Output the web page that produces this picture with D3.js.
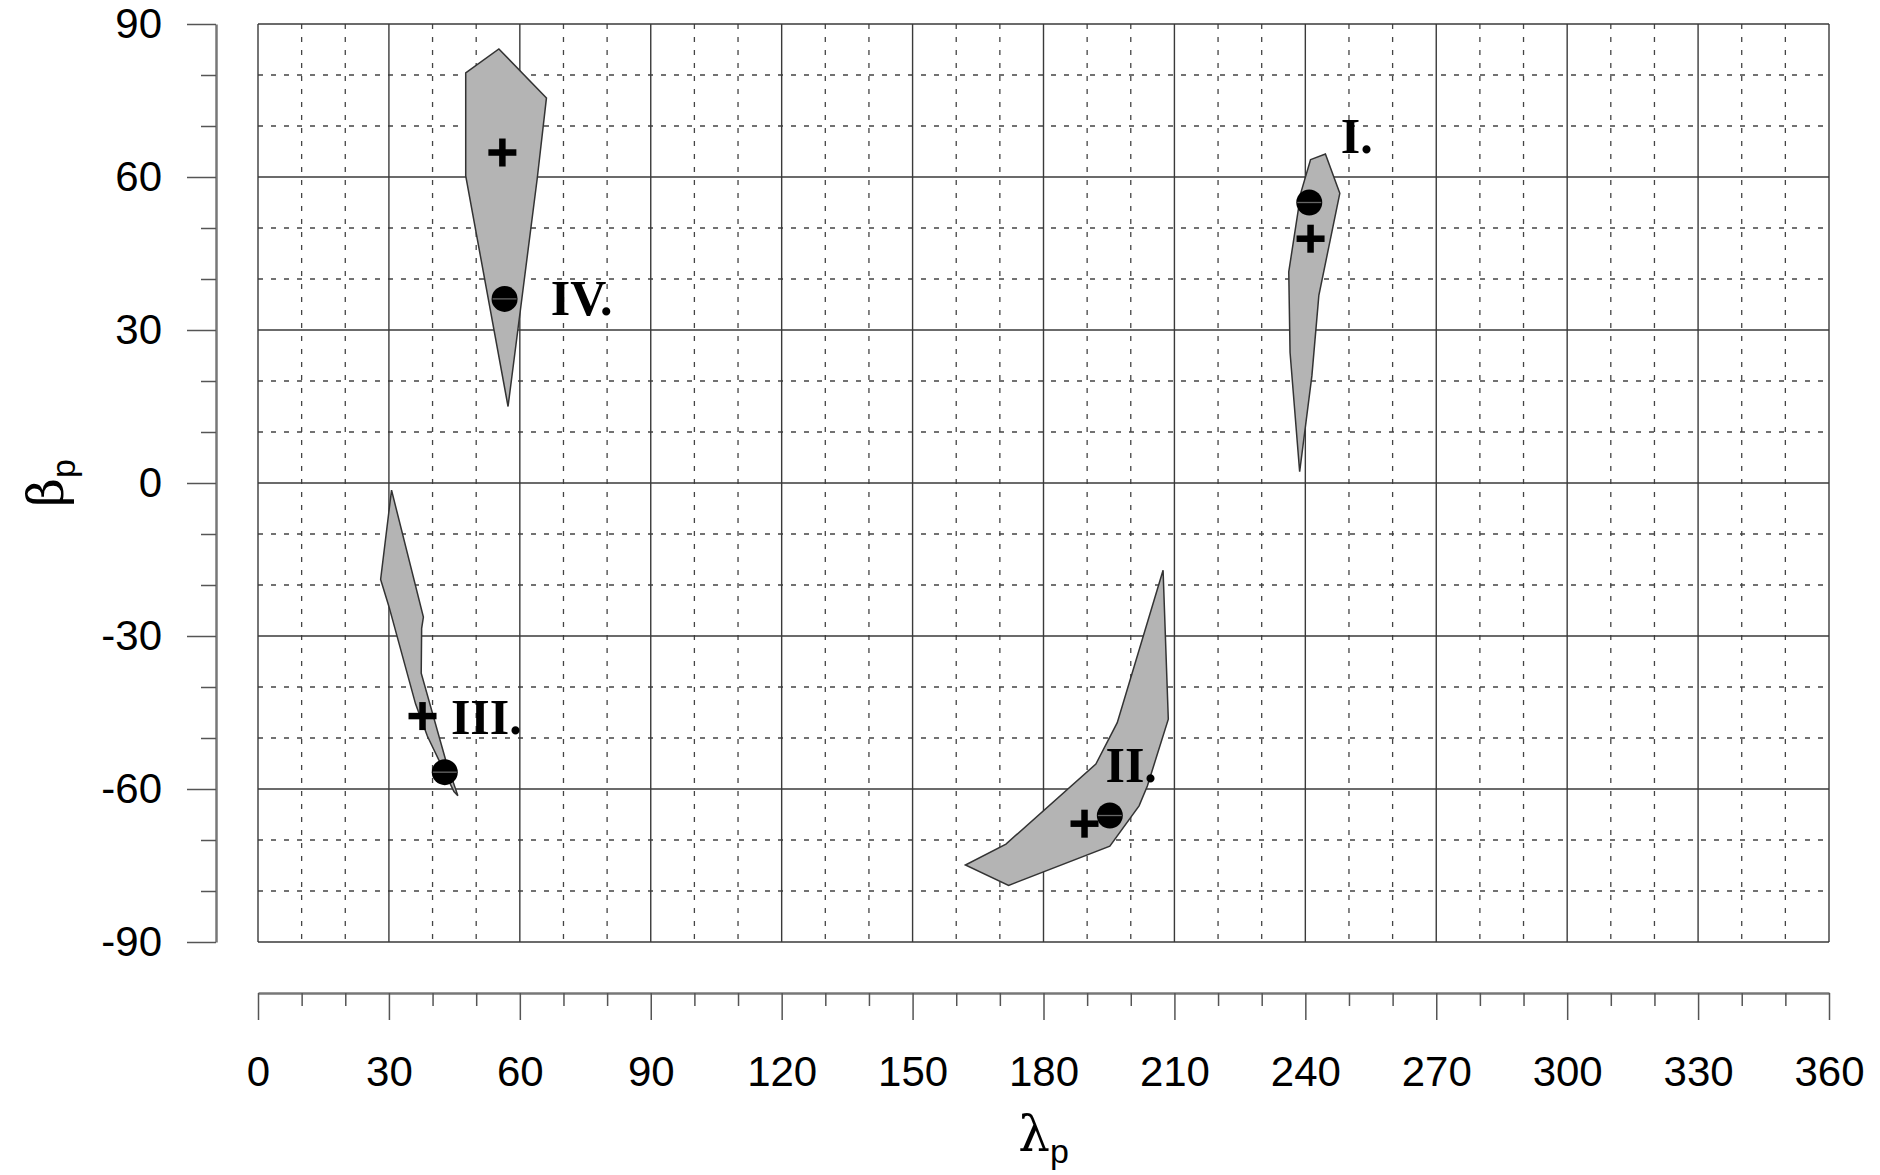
<!DOCTYPE html>
<html>
<head>
<meta charset="utf-8">
<script src="https://cdn.jsdelivr.net/npm/d3@7"></script>
<style>
  html, body { margin: 0; padding: 0; background: #fff; }
  svg { display: block; }
</style>
</head>
<body>
<svg id="chart" width="1880" height="1175"></svg>
<script>
// Pole solution regions in ecliptic coordinates (lambda_p, beta_p), degrees
const regionI = [[241.2,63.4],[244.6,64.5],[247.9,56.8],[243.1,36.8],[241.5,21.0],[238.7,2.2],[236.5,25.6],[236.2,41.4],[239.0,57.0]];
const regionII = [[207.4,-17.1],[208.6,-46.3],[203.8,-59.4],[201.9,-63.3],[195.2,-71.2],[172.0,-78.9],[162.1,-74.9],[171.4,-70.8],[192.0,-55.1],[196.9,-47.0]];
const regionIII = [[30.6,-1.4],[37.9,-26.3],[37.5,-28.5],[37.4,-37.3],[43.1,-54.6],[45.8,-61.3],[44.9,-60.5],[38.8,-49.6],[36.1,-43.3],[30.0,-24.2],[28.1,-18.9]];
const regionIV = [[47.6,80.4],[55.2,85.1],[66.1,75.5],[64.0,59.8],[57.3,15.0],[47.6,60.2]];

const regionNames = ["I.", "II.", "III.", "IV."];
// filled circles: best-fit pole of each region
const circleLambda = [240.9, 195.2, 42.8, 56.5];
const circleBeta = [55.0, -65.2, -56.7, 36.1];
// crosses: second pole estimate
const crossLambda = [241.2, 189.4, 37.7, 56.0];
const crossBeta = [47.9, -66.8, -45.7, 64.8];
// label anchors (degrees)
const labelLambda = [248.1, 194.2, 44.2, 67.1];
const labelBeta = [64.8, -58.6, -49.2, 32.9];

const xMajor = [0, 30, 60, 90, 120, 150, 180, 210, 240, 270, 300, 330, 360];
const yMajor = [-90, -60, -30, 0, 30, 60, 90];

const svg = d3.select("#chart");
svg.append("rect").attr("width", 1880).attr("height", 1175).attr("fill", "#fff");

const x = d3.scaleLinear().domain([0, 360]).range([258, 1829]);
const y = d3.scaleLinear().domain([-90, 90]).range([942, 24]);

const xMinor = d3.range(0, 361, 10).filter(v => v % 30 !== 0);
const yMinor = d3.range(-90, 91, 10).filter(v => v % 30 !== 0);

// grid
const grid = svg.append("g");
grid.selectAll("line.vmin").data(xMinor).join("line")
  .attr("x1", d => x(d)).attr("x2", d => x(d)).attr("y1", y(90)).attr("y2", y(-90))
  .attr("stroke", "#444").attr("stroke-width", 1.3).attr("stroke-dasharray", "5,8");
grid.selectAll("line.hmin").data(yMinor).join("line")
  .attr("y1", d => y(d)).attr("y2", d => y(d)).attr("x1", x(0)).attr("x2", x(360))
  .attr("stroke", "#444").attr("stroke-width", 1.3).attr("stroke-dasharray", "5,8");
grid.selectAll("line.vmaj").data(xMajor).join("line")
  .attr("x1", d => x(d)).attr("x2", d => x(d)).attr("y1", y(90)).attr("y2", y(-90))
  .attr("stroke", "#3a3a3a").attr("stroke-width", 1.4);
grid.selectAll("line.hmaj").data(yMajor).join("line")
  .attr("y1", d => y(d)).attr("y2", d => y(d)).attr("x1", x(0)).attr("x2", x(360))
  .attr("stroke", "#3a3a3a").attr("stroke-width", 1.4);

// regions
const line = d3.line().x(d => x(d[0])).y(d => y(d[1])).curve(d3.curveLinearClosed);
svg.append("g").selectAll("path").data([regionI, regionII, regionIII, regionIV]).join("path")
  .attr("d", line).attr("fill", "#b4b4b4").attr("stroke", "#333").attr("stroke-width", 1.5)
  .attr("stroke-linejoin", "miter");

// crosses
const arm = 14;
const crosses = svg.append("g").attr("stroke", "#000").attr("stroke-width", 6.5);
crossLambda.forEach((l, i) => {
  const cx = x(l), cy = y(crossBeta[i]);
  crosses.append("line").attr("x1", cx - arm).attr("x2", cx + arm).attr("y1", cy).attr("y2", cy);
  crosses.append("line").attr("x1", cx).attr("x2", cx).attr("y1", cy - arm).attr("y2", cy + arm);
});

// circles
const dots = svg.append("g");
circleLambda.forEach((l, i) => {
  const cx = x(l), cy = y(circleBeta[i]);
  dots.append("circle").attr("cx", cx).attr("cy", cy).attr("r", 13).attr("fill", "#000");
  dots.append("line").attr("x1", cx - 12).attr("x2", cx + 12).attr("y1", cy).attr("y2", cy)
    .attr("stroke", "#666").attr("stroke-width", 1.3);
});

// region labels
svg.append("g").selectAll("text").data(regionNames).join("text")
  .attr("x", (d, i) => x(labelLambda[i])).attr("y", (d, i) => y(labelBeta[i]))
  .attr("font-family", "'Liberation Serif', 'DejaVu Serif', serif")
  .attr("font-weight", "bold").attr("font-size", 50).attr("fill", "#000")
  .text(d => d);

// axes
const tickFont = "'Liberation Sans', Arial, sans-serif";
const plainNumber = d => String(d);
function styleAxis(g) {
  g.select(".domain").attr("stroke", "#777").attr("stroke-width", 2.5);
  g.selectAll(".tick line").attr("stroke", "#555").attr("stroke-width", 1.5);
  g.selectAll(".tick text").attr("font-family", tickFont).attr("font-size", 42).attr("fill", "#000");
}

const yAxisG = svg.append("g").attr("transform", "translate(216,0)");
yAxisG.call(d3.axisLeft(y).tickValues(yMajor).tickSize(29).tickSizeOuter(0).tickPadding(25).tickFormat(plainNumber));
styleAxis(yAxisG);
const yMinorG = svg.append("g").attr("transform", "translate(216,0)");
yMinorG.call(d3.axisLeft(y).tickValues(yMinor).tickSize(15).tickSizeOuter(0).tickFormat(""));
yMinorG.select(".domain").remove();
yMinorG.selectAll(".tick line").attr("stroke", "#555").attr("stroke-width", 1.5);

const xAxisG = svg.append("g").attr("transform", "translate(0,993)");
xAxisG.call(d3.axisBottom(x).tickValues(xMajor).tickSize(27).tickSizeOuter(0).tickPadding(36).tickFormat(plainNumber));
styleAxis(xAxisG);
const xMinorG = svg.append("g").attr("transform", "translate(0,993)");
xMinorG.call(d3.axisBottom(x).tickValues(xMinor).tickSize(13).tickSizeOuter(0).tickFormat(""));
xMinorG.select(".domain").remove();
xMinorG.selectAll(".tick line").attr("stroke", "#555").attr("stroke-width", 1.5);

// axis titles
const xt = svg.append("text").attr("x", x(180)).attr("y", 1151).attr("text-anchor", "middle")
  .attr("font-family", "'DejaVu Serif', 'Liberation Serif', serif").attr("font-size", 50).attr("fill", "#000");
xt.append("tspan").text("λ");
xt.append("tspan").attr("font-family", tickFont).attr("font-size", 34).attr("dy", 12).text("p");

const yt = svg.append("text").attr("transform", `translate(63,${y(0)}) rotate(-90)`).attr("text-anchor", "middle")
  .attr("font-family", "'DejaVu Serif', 'Liberation Serif', serif").attr("font-size", 50).attr("fill", "#000");
yt.append("tspan").text("β");
yt.append("tspan").attr("font-family", tickFont).attr("font-size", 34).attr("dy", 12).text("p");
</script>
</body>
</html>
